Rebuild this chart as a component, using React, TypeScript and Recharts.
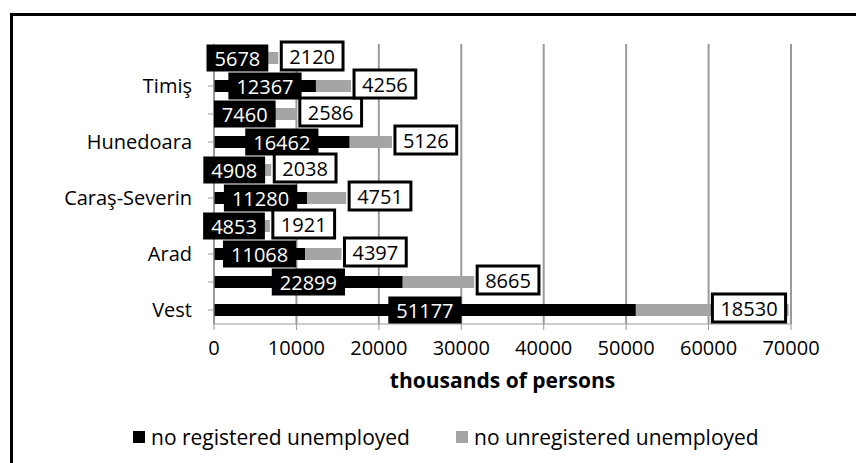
import {
  Bar,
  BarChart,
  CartesianGrid,
  LabelList,
  Legend,
  XAxis,
  YAxis,
} from "recharts";

// bottom to top; the unnamed rows carry no label on the axis
const regions = ["Vest", "", "Arad", "", "Caraş-Severin", "", "Hunedoara", "", "Timiş", ""];
const registered = [51177, 22899, 11068, 4853, 11280, 4908, 16462, 7460, 12367, 5678];
const unregistered = [18530, 8665, 4397, 1921, 4751, 2038, 5126, 2586, 4256, 2120];
const xTicks = [0, 10000, 20000, 30000, 40000, 50000, 60000, 70000];

const seriesNames = ["no registered unemployed", "no unregistered unemployed"];
const seriesColors = ["#000000", "#a5a5a5"];

const data = regions.map((region, i) => ({
  region,
  registered: registered[i],
  unregistered: unregistered[i],
}));

const FONT = 20;
const textWidth = (s: string) => s.length * FONT * 0.572;

function BlackLabel(props: any) {
  const { x, y, width, height, value } = props;
  const txt = String(value);
  const w = textWidth(txt) + 16;
  const h = 27;
  const cx = x + width / 2;
  const cy = y + height / 2;
  return (
    <g>
      <rect x={cx - w / 2} y={cy - h / 2} width={w} height={h} fill="#000" />
      <text x={cx} y={cy} fill="#fff" fontSize={FONT} textAnchor="middle" dominantBaseline="central">
        {txt}
      </text>
    </g>
  );
}

function GrayLabel(props: any) {
  const { x, y, width, height, value } = props;
  const txt = String(value);
  const w = textWidth(txt) + 16;
  const h = 28;
  const end = x + width;
  const bx = end + w > 800 ? end - w - 3 : end + 3;
  const cy = y + height / 2 - 2;
  return (
    <g>
      <rect x={bx} y={cy - h / 2} width={w} height={h} fill="#fff" stroke="#000" strokeWidth={3} />
      <text x={bx + w / 2} y={cy} fill="#000" fontSize={FONT} textAnchor="middle" dominantBaseline="central">
        {txt}
      </text>
    </g>
  );
}

function renderLegend() {
  const lefts = [133, 456];
  return (
    <div style={{ position: "relative", height: 30, fontSize: 21, color: "#000" }}>
      {seriesNames.map((name, i) => (
        <div
          key={name}
          style={{ position: "absolute", left: lefts[i], top: 0, display: "flex", alignItems: "center", whiteSpace: "nowrap" }}
        >
          <span style={{ width: 12, height: 12, background: seriesColors[i], marginRight: 6, display: "inline-block" }} />
          {name}
        </div>
      ))}
    </div>
  );
}

export default function App() {
  return (
    <div
      style={{
        position: "absolute",
        left: 0,
        top: 0,
        width: 856,
        height: 463,
        overflow: "hidden",
        background: "#fff",
        fontFamily: "'Open Sans', sans-serif",
      }}
    >
      <div
        style={{
          position: "absolute",
          left: 10,
          top: 13,
          width: 900,
          height: 500,
          border: "3px solid #000",
        }}
      />
      <BarChart
        width={856}
        height={463}
        data={data}
        layout="vertical"
        margin={{ top: 44, right: 65, bottom: 39, left: 0 }}
        barSize={12}
      >
        <CartesianGrid horizontal={false} stroke="#9a9a9a" strokeWidth={2} />
        <XAxis
          type="number"
          domain={[0, 70000]}
          ticks={xTicks}
          height={70}
          tick={{ fill: "#000", fontSize: FONT }}
          tickSize={6}
          tickMargin={11}
          stroke="#9a9a9a"
          label={{
            value: "thousands of persons",
            position: "insideBottom",
            offset: 6,
            fill: "#000",
            fontSize: 21,
            fontWeight: "bold",
          }}
        />
        <YAxis
          type="category"
          dataKey="region"
          reversed
          width={214}
          interval={0}
          tick={{ fill: "#000", fontSize: 20 }}
          tickSize={6}
          tickMargin={16}
          stroke="#9a9a9a"
        />
        <Legend
          content={renderLegend}
          wrapperStyle={{ left: 0, width: 856, bottom: 10, height: 30 }}
        />
        <Bar dataKey="registered" name={seriesNames[0]} stackId="a" fill={seriesColors[0]} isAnimationActive={false}>
          <LabelList dataKey="registered" content={BlackLabel} />
        </Bar>
        <Bar dataKey="unregistered" name={seriesNames[1]} stackId="a" fill={seriesColors[1]} isAnimationActive={false}>
          <LabelList dataKey="unregistered" content={GrayLabel} />
        </Bar>
      </BarChart>
    </div>
  );
}
